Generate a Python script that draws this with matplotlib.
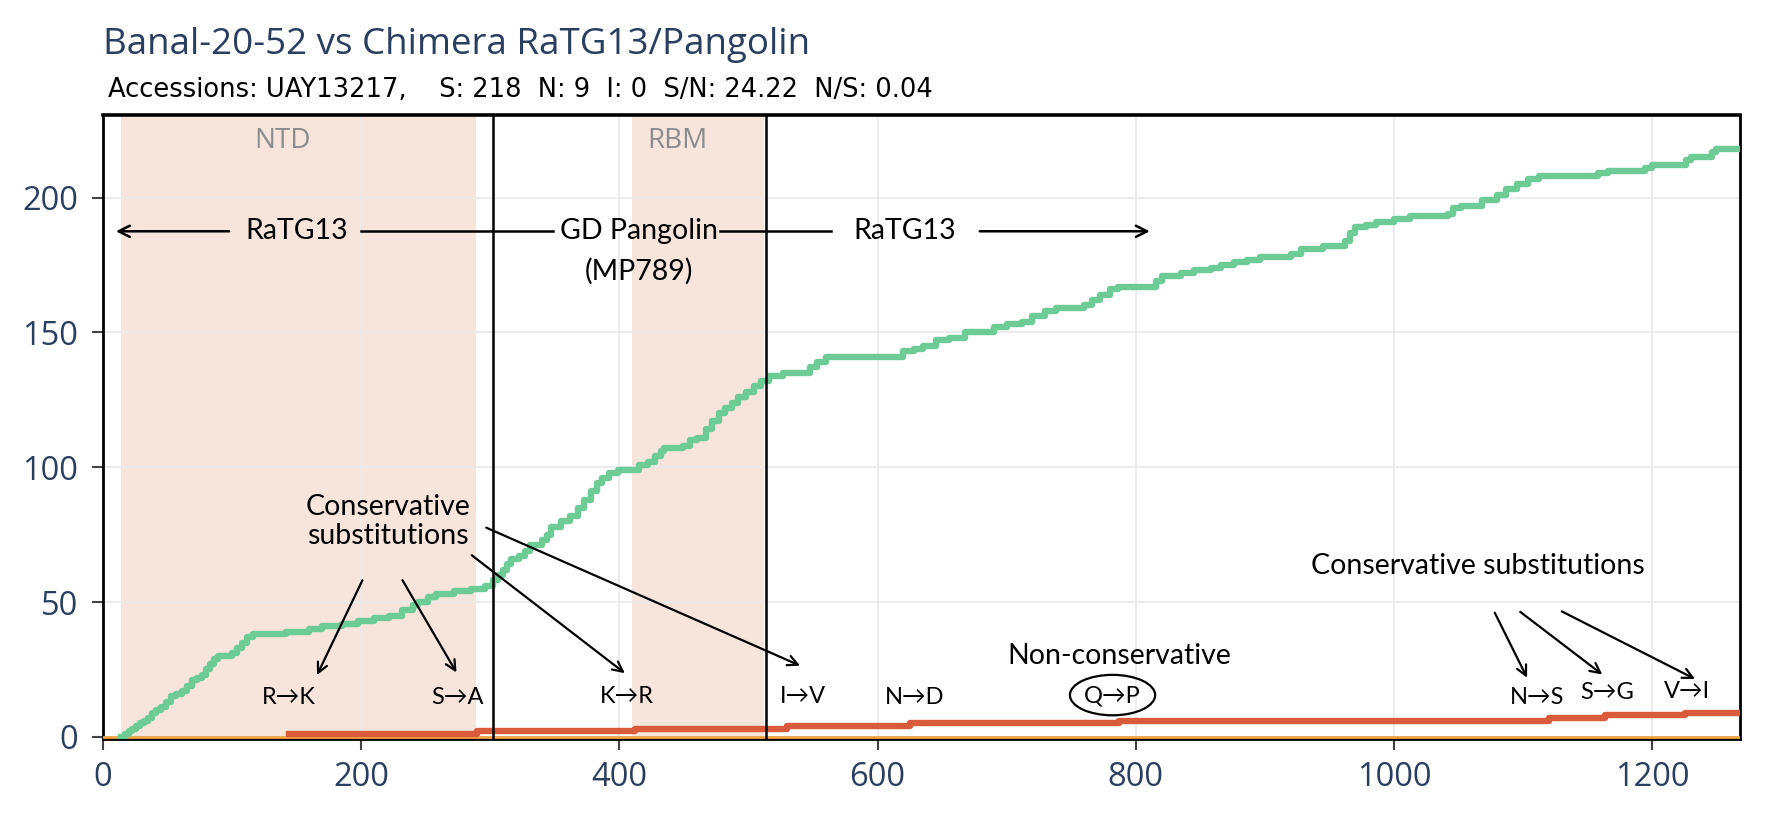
import matplotlib.pyplot as plt
from matplotlib.patches import Ellipse

# cumulative synonymous (S) changes along the spike
syn_pos = [14, 17, 20, 23, 26, 29, 32, 35, 38, 41, 45, 49, 53, 57, 61, 65, 69, 73, 77, 80,
           83, 86, 89, 100, 104, 108, 112, 116, 142, 160, 170, 185, 198, 210, 222, 232, 240,
           244, 252, 258, 272, 285, 296, 302, 306, 310, 313, 316, 322, 327, 331, 340, 344,
           347, 355, 362, 368, 373, 378, 383, 387, 392, 399, 415, 422, 428, 432, 435, 449,
           455, 460, 467, 472, 477, 482, 487, 492, 498, 504, 510, 516, 527, 548, 553, 560,
           620, 628, 635, 645, 655, 668, 690, 700, 712, 720, 730, 738, 760, 766, 772, 780,
           786, 816, 820, 835, 845, 858, 866, 876, 886, 896, 920, 928, 945, 962, 966, 970,
           978, 986, 1000, 1012, 1042, 1046, 1052, 1068, 1080, 1087, 1095, 1104, 1112, 1158,
           1166, 1194, 1200, 1226, 1230, 1246, 1249, 1268]
syn_count = [0, 1, 2, 3, 4, 5, 6, 7, 9, 10, 11, 13, 15, 16, 17, 19, 21, 22, 23, 25,
             27, 29, 30, 31, 33, 35, 37, 38, 39, 40, 41, 42, 43, 44, 45, 47, 49,
             50, 52, 53, 54, 55, 56, 58, 60, 62, 64, 66, 67, 69, 71, 73, 75,
             78, 80, 82, 85, 88, 91, 94, 96, 98, 99, 101, 102, 104, 106, 107, 108,
             110, 111, 114, 117, 120, 122, 124, 126, 128, 130, 132, 134, 135, 137, 139, 141,
             143, 144, 145, 147, 148, 150, 152, 153, 154, 156, 158, 159, 160, 162, 164, 166,
             167, 169, 171, 172, 173, 174, 175, 176, 177, 178, 179, 181, 182, 184, 187, 189,
             190, 191, 192, 193, 194, 196, 197, 199, 201, 203, 205, 207, 208, 209,
             210, 211, 212, 214, 215, 217, 218, 218]

# cumulative non-synonymous (N) changes
nonsyn_pos = [144, 290, 412, 530, 625, 787, 1120, 1163, 1225, 1268]
nonsyn_count = [1, 2, 3, 4, 5, 6, 7, 8, 9, 9]

# indels (I)
indel_pos = [0, 1268]
indel_count = [0, 0]

region_names = ['NTD', 'RBM']
region_start = [14, 410]
region_end = [289, 512]
region_label_x = [139, 445]
pangolin_start, pangolin_end = 302, 514

subst_labels = ['R→K', 'S→A', 'K→R', 'I→V', 'N→D', 'Q→P', 'N→S', 'S→G', 'V→I']
subst_x = [144, 275, 406, 542, 629, 782, 1111, 1165, 1227]
subst_y = [14.5, 14.5, 15, 15, 14.5, 15, 14.5, 16.3, 16.8]

ANN = ['Lato', 'DejaVu Sans']
BLUE = '#2a3f5f'

fig = plt.figure(figsize=(17.72, 8.25), dpi=100)
ax = fig.add_axes([0.058, 0.1042, 0.924, 0.756])

for name, a, b, lx in zip(region_names, region_start, region_end, region_label_x):
    ax.axvspan(a, b, color='#f7e4db', zorder=0.2, lw=0)
    ax.text(lx, 221, name, ha='center', va='center', fontsize=20, color='#8c8c8c',
            family='Open Sans')

ax.plot(indel_pos, indel_count, color='#f2a541', lw=2, zorder=3)
ax.plot(nonsyn_pos, nonsyn_count, drawstyle='steps-post', color='#d95b3b', lw=4.6, zorder=4)
ax.plot(syn_pos, syn_count, drawstyle='steps-post', color='#6dcb95', lw=4.6, zorder=5)

# pangolin-derived block
ax.axvline(pangolin_start, color='black', lw=1.8, zorder=6)
ax.axvline(pangolin_end, color='black', lw=1.8, zorder=6)

# parent annotations
ax.annotate('', xy=(8, 187.5), xytext=(100, 187.5),
            arrowprops=dict(arrowstyle='->', lw=1.8, color='black', mutation_scale=20))
ax.plot([200, 349], [187.5, 187.5], color='black', lw=1.8)
ax.plot([478, 564], [187.5, 187.5], color='black', lw=1.8)
ax.annotate('', xy=(813, 187.5), xytext=(677, 187.5),
            arrowprops=dict(arrowstyle='->', lw=1.8, color='black', mutation_scale=20))
ax.text(150, 187.5, 'RaTG13', ha='center', va='center', fontsize=20.5, family=ANN)
ax.text(415, 187.5, 'GD Pangolin', ha='center', va='center', fontsize=20.5, family=ANN)
ax.text(415, 172.5, '(MP789)', ha='center', va='center', fontsize=20.5, family=ANN)
ax.text(621, 187.5, 'RaTG13', ha='center', va='center', fontsize=20.5, family=ANN)

# substitution annotations
ax.text(221, 80, 'Conservative\nsubstitutions', ha='center', va='center', fontsize=20.5,
        family=ANN, linespacing=1.15)
arrow_kw = dict(arrowstyle='->', lw=1.6, color='black', mutation_scale=18)
for start, end in [((202, 59), (165, 22)), ((231, 59), (275, 23)),
                   ((284, 68), (406, 23)), ((295, 78), (542, 26))]:
    ax.annotate('', xy=end, xytext=start, arrowprops=arrow_kw, zorder=7)

ax.text(1065, 63.5, 'Conservative substitutions', ha='center', va='center', fontsize=20.5,
        family=ANN)
for start, end in [((1077, 47), (1104, 21)), ((1096, 47), (1163, 22.5)),
                   ((1128, 47), (1235, 21))]:
    ax.annotate('', xy=end, xytext=start, arrowprops=arrow_kw, zorder=7)

ax.text(787, 30, 'Non-conservative', ha='center', va='center', fontsize=20.5, family=ANN)
ax.add_patch(Ellipse((782, 15.5), 66, 15, fill=False, lw=1.6, color='black', zorder=7))

for lab, x, y in zip(subst_labels, subst_x, subst_y):
    ax.text(x, y, lab, ha='center', va='center', fontsize=17, family=ANN, zorder=8)

ax.set_xlim(0, 1268)
ax.set_ylim(-0.8, 230.5)
ax.set_xticks(range(0, 1201, 200))
ax.set_yticks(range(0, 201, 50))
ax.grid(color='#ebebeb', lw=1.3)
ax.set_axisbelow(True)
for sp in ax.spines.values():
    sp.set_color('black')
    sp.set_linewidth(2)
ax.spines['top'].set_linewidth(2.6)
ax.tick_params(direction='out', length=8, width=1.5, color='#444444',
               labelsize=23.5, labelcolor=BLUE)
ax.tick_params(axis='y', pad=10)
ax.tick_params(axis='x', pad=8)
for lab in ax.get_xticklabels() + ax.get_yticklabels():
    lab.set_family('Open Sans')

fig.text(0.058, 0.945, 'Banal-20-52 vs Chimera RaTG13/Pangolin', fontsize=26.5, color=BLUE,
         va='center', family='Open Sans')
fig.text(0.061, 0.891, 'Accessions: UAY13217,    S: 218  N: 9  I: 0  S/N: 24.22  N/S: 0.04',
         fontsize=18.5, va='center', family='DejaVu Sans')

fig.savefig('out.png', dpi=100)
